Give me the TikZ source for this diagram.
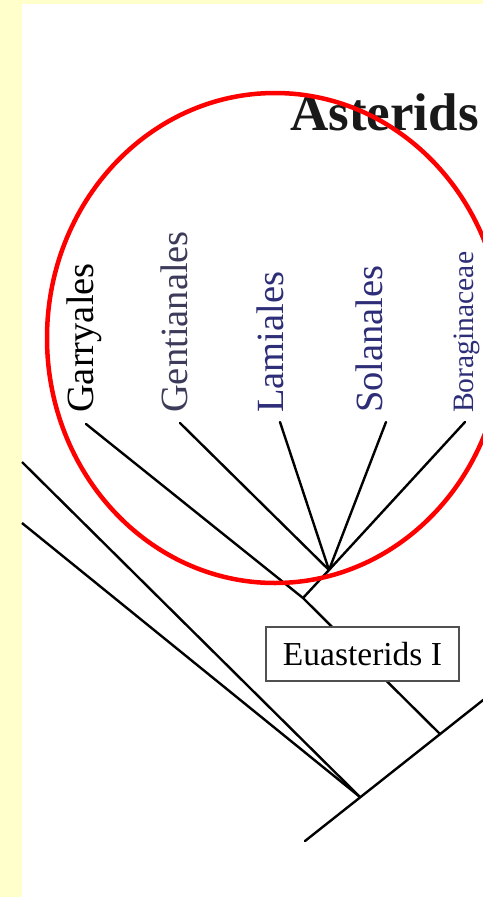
\documentclass[tikz,border=0pt]{standalone}
\usepackage{fontspec}
\setmainfont{Liberation Serif}
\definecolor{bgyellow}{HTML}{FFFFCC}
\definecolor{labgray}{HTML}{3C3C5A}
\definecolor{labblue}{HTML}{2E2E78}
\definecolor{boxgray}{HTML}{505050}
\tikzset{
  branch/.style={draw=black, line width=2.4bp, line cap=round, line join=round},
  leaflabel/.style={rotate=90, anchor=base west, inner sep=0pt, font=\fontsize{38.5bp}{44bp}\selectfont},
  cladebox/.style={draw=boxgray, line width=1.3bp, fill=white, minimum width=193bp, minimum height=54bp, inner sep=0pt, font=\fontsize{33.5bp}{38bp}\selectfont},
  ring/.style={draw=red, line width=4.5bp}
}
\begin{document}
\begin{tikzpicture}[x=1bp,y=-1bp]
\useasboundingbox (0,0) rectangle (483,897);
\clip (0,0) rectangle (483,897);
\fill[bgyellow] (0,0) rectangle (483,897);
\fill[white] (22,4) rectangle (483,897);

% tree coordinates
\coordinate (tG) at (86,424);
\coordinate (tGe) at (180,423);
\coordinate (tL) at (280,422);
\coordinate (tS) at (386,422);
\coordinate (tB) at (465,422);
\coordinate (poly) at (329,570);
\coordinate (j1) at (303,598);
\coordinate (j2) at (440,734);
\coordinate (j3) at (360,797);
\coordinate (root) at (305,841);
\coordinate (rootR) at (492,693);
\coordinate (left1) at (22,462);
\coordinate (left2) at (22,523);

% branches
\draw[branch] (tGe) -- (poly);
\draw[branch] (tL) -- (poly);
\draw[branch] (tS) -- (poly);
\draw[branch] (tB) -- (poly);
\draw[branch] (poly) -- (j1);
\draw[branch] (tG) -- (j1);
\draw[branch] (j1) -- (j2);
\draw[branch] (root) -- (rootR);
\draw[branch, line cap=butt] (left1) -- (j3);
\draw[branch, line cap=butt] (left2) -- (j3);

% clade box
\node[cladebox] (eu) at (362.5,654) {Euasterids I};

% labels
\node[leaflabel, text=black] (lG) at (93,413) {Garryales};
\node[leaflabel, text=labgray] (lGe) at (187.5,413) {Gentianales};
\node[leaflabel, text=labblue] (lL) at (283,413) {Lamiales};
\node[leaflabel, text=labblue] (lS) at (382,413) {Solanales};
\node[leaflabel, text=labblue, font=\fontsize{29.6bp}{34bp}\selectfont] (lB) at (473,413) {Boraginaceae};

\node[anchor=base west, inner sep=0pt, text=black!90, font=\bfseries\fontsize{53bp}{60bp}\selectfont] (ast) at (290,130) {Asterids};

% red ring
\draw[ring] (275,338) ellipse [x radius=228, y radius=245];
\end{tikzpicture}
\end{document}
